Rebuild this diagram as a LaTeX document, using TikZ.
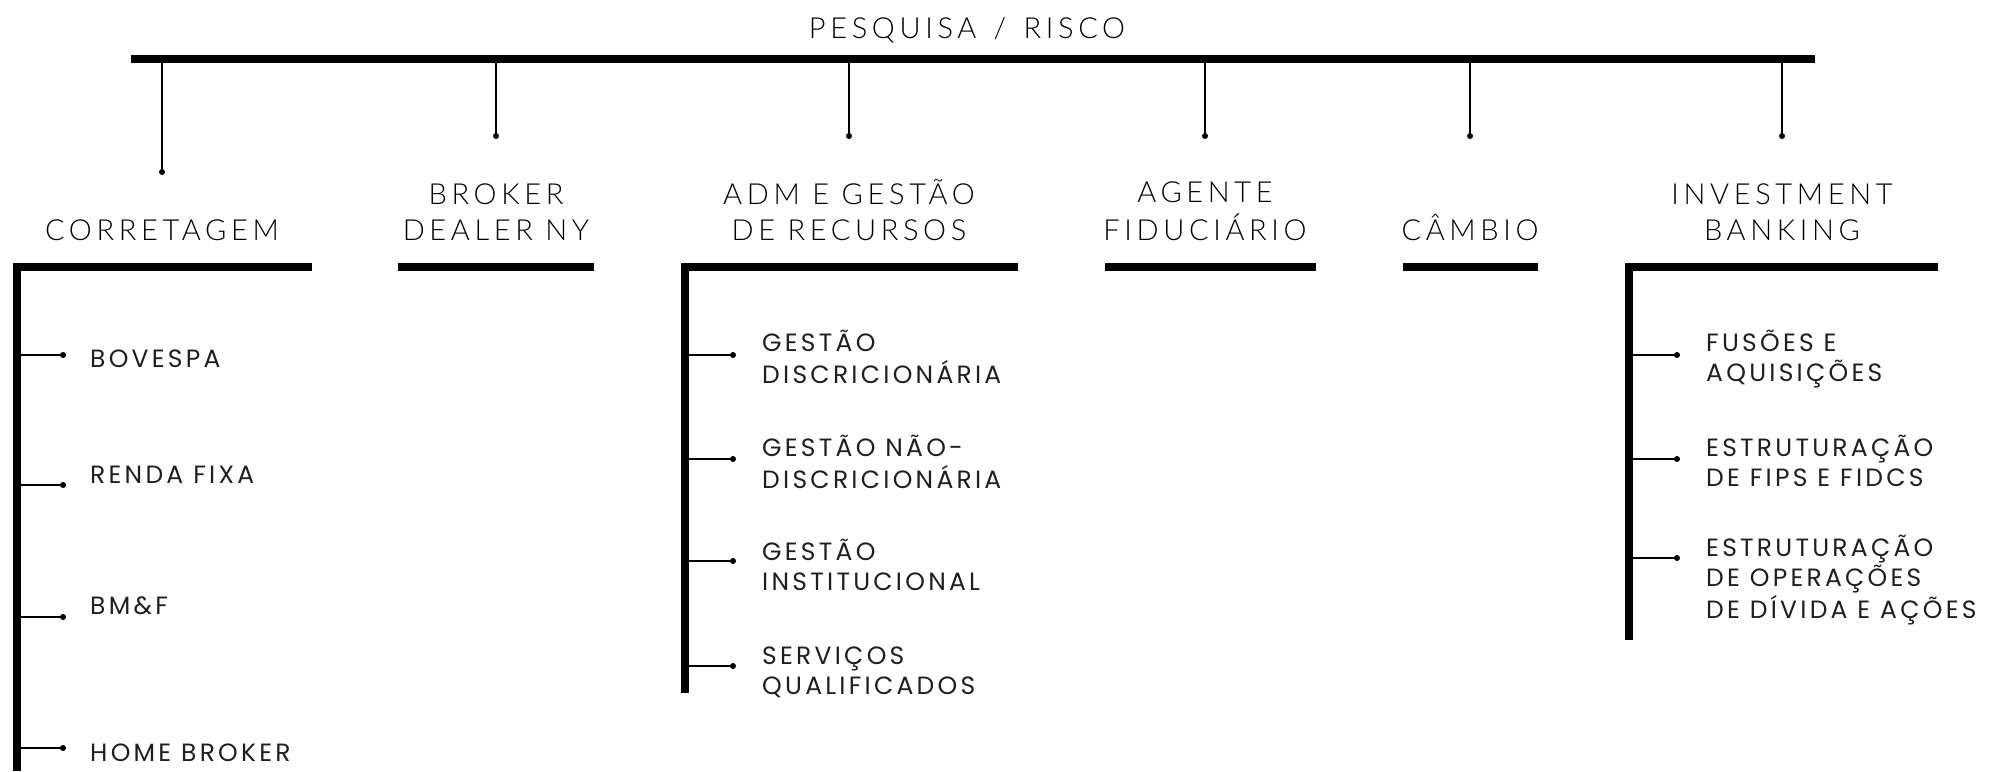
\documentclass[tikz,border=0pt]{standalone}
\usepackage{fontspec}
\newfontfamily\hfont{Lato Light}[LetterSpace=16]
\newfontfamily\sfont{Poppins}[LetterSpace=13]
\newcommand{\itl}[1]{\begin{tabular}[t]{@{}l@{}}#1\end{tabular}}
\newcommand{\hdl}[1]{\begin{tabular}[b]{@{}c@{}}#1\end{tabular}}
\begin{document}
\begin{tikzpicture}[x=1pt,y=-1pt,
  bar/.style={line width=8pt, line join=miter, line cap=butt},
  thinline/.style={line width=1.4pt},
  dot/.style={circle, fill=black, inner sep=0pt, minimum size=6pt},
  head/.style={font=\hfont\fontsize{29}{36}\selectfont, anchor=base, inner sep=0pt},
  item/.style={font=\sfont\fontsize{25}{30}\selectfont, anchor=base west, inner sep=0pt, text=black!88}]
\useasboundingbox (0,0) rectangle (1989,771);

% title and top bar
\node[head] (title) at (967,38) {PESQUISA \,/\, RISCO};
\coordinate (tbL) at (131,59);
\coordinate (tbR) at (1815,59);
\draw[bar] (tbL) -- (tbR);

% drops from the top bar
\foreach \n/\x/\y in {1/162/172, 2/496/136, 3/849/136, 4/1205/136, 5/1470/136, 6/1782/136}{
  \coordinate (b\n) at (\x,59);
  \node[dot] (d\n) at (\x,\y) {};
  \draw[thinline] (b\n) -- (d\n.center);
}

% headings
\node[head] (h1) at (162,240) {CORRETAGEM};
\node[head] (h2) at (496,240) {\hdl{BROKER\\DEALER NY}};
\node[head] (h3) at (849,240) {\hdl{ADM E GESTÃO\\DE RECURSOS}};
\node[head] (h4) at (1205,240) {\hdl{AGENTE\\FIDUCIÁRIO}};
\node[head] (h5) at (1470,240) {CÂMBIO};
\node[head] (h6) at (1782,240) {\hdl{INVESTMENT\\BANKING}};

% heading bars and spines
\coordinate (s1top) at (17,267);
\coordinate (s1bot) at (17,771);
\coordinate (u1end) at (312,267);
\draw[bar] (s1bot) -- (s1top) -- (u1end);
\coordinate (u2a) at (398,267);
\coordinate (u2b) at (594,267);
\draw[bar] (u2a) -- (u2b);
\coordinate (s3top) at (685,267);
\coordinate (s3bot) at (685,693);
\coordinate (u3end) at (1018,267);
\draw[bar] (s3bot) -- (s3top) -- (u3end);
\coordinate (u4a) at (1105,267);
\coordinate (u4b) at (1316,267);
\draw[bar] (u4a) -- (u4b);
\coordinate (u5a) at (1403,267);
\coordinate (u5b) at (1538,267);
\draw[bar] (u5a) -- (u5b);
\coordinate (s6top) at (1629,267);
\coordinate (s6bot) at (1629,640);
\coordinate (u6end) at (1938,267);
\draw[bar] (s6bot) -- (s6top) -- (u6end);

% Corretagem items
\foreach \n/\cy/\by/\txt in {1/355/367/BOVESPA, 2/485/483/RENDA FIXA, 3/617/614/BM\&F, 4/748/761/HOME BROKER}{
  \coordinate (ca\n) at (17,\cy);
  \node[dot] (cd\n) at (63,\cy) {};
  \draw[thinline] (ca\n) -- (cd\n.center);
  \node[item] (ct\n) at (90,\by) {\txt};
}

% ADM items
\foreach \n/\cy/\by/\txt in {1/355/351/{GESTÃO\\DISCRICIONÁRIA}, 2/459/456/{GESTÃO NÃO-\\DISCRICIONÁRIA}, 3/561/560/{GESTÃO\\INSTITUCIONAL}, 4/666/664/{SERVIÇOS\\QUALIFICADOS}}{
  \coordinate (aa\n) at (685,\cy);
  \node[dot] (ad\n) at (733,\cy) {};
  \draw[thinline] (aa\n) -- (ad\n.center);
  \node[item] (at\n) at (762,\by) {\itl{\txt}};
}

% Investment banking items
\foreach \n/\cy/\by/\txt in {1/355/351/{FUSÕES E\\AQUISIÇÕES}, 2/459/456/{ESTRUTURAÇÃO\\DE FIPS E FIDCS}, 3/558/556/{ESTRUTURAÇÃO\\DE OPERAÇÕES\\DE DÍVIDA E AÇÕES}}{
  \coordinate (ia\n) at (1629,\cy);
  \node[dot] (id\n) at (1677,\cy) {};
  \draw[thinline] (ia\n) -- (id\n.center);
  \node[item] (it\n) at (1706,\by) {\itl{\txt}};
}
\end{tikzpicture}
\end{document}
